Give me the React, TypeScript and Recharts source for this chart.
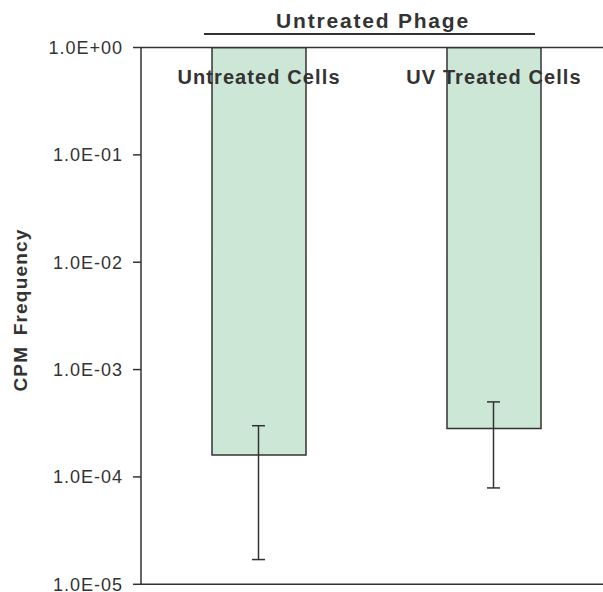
import React from 'react';
import {
  ComposedChart,
  Bar,
  Line,
  XAxis,
  YAxis,
  ErrorBar,
  LabelList,
  ReferenceLine
} from 'recharts';

// Data
const categories = ['Untreated Cells', 'UV Treated Cells'];
const cpmFrequency = [1.6e-4, 2.82e-4];
const errorLower = [1.43e-4, 2.03e-4];
const errorUpper = [1.4e-4, 2.18e-4];
const barTop = 1; // bars hang from the 1.0E+00 line
const yTicks = [1e-5, 1e-4, 1e-3, 1e-2, 1e-1, 1];
const groupTitle = 'Untreated Phage';
const yTitle = 'CPM Frequency';

const data = categories.map((name, i) => ({
  name,
  value: cpmFrequency[i],
  top: barTop,
  err: [errorLower[i], errorUpper[i]]
}));

const FONT = '"Liberation Sans", Arial, Helvetica, sans-serif';
const INK = '#333333';

// 1.0E-03 style
const sci = (v: number): string => {
  const [m, e] = v.toExponential(1).split('e');
  const n = parseInt(e, 10);
  return `${m}E${n < 0 ? '-' : '+'}${String(Math.abs(n)).padStart(2, '0')}`;
};

const styles = {
  page: {
    position: 'fixed' as const,
    top: 0,
    left: 0,
    width: 603,
    height: 592,
    overflow: 'hidden',
    background: '#ffffff',
    fontFamily: FONT
  },
  overlay: {
    position: 'absolute' as const,
    top: 0,
    left: 0,
    pointerEvents: 'none' as const
  }
};

const YTitle = () => (
  <text
    x={27}
    y={310}
    transform="rotate(-90 27 310)"
    textAnchor="middle"
    fontFamily={FONT}
    fontSize={19}
    fontWeight="bold"
    letterSpacing={1.2}
    wordSpacing={4}
    fill={INK}
  >
    {yTitle}
  </text>
);

// category name drawn inside the top of each bar, on one line
const CategoryLabel = (props: any) => {
  const { x, y, width, value } = props;
  return (
    <text
      x={Number(x) + Number(width) / 2}
      y={Number(y) + 36.5}
      textAnchor="middle"
      fontFamily={FONT}
      fontSize={20}
      fontWeight="bold"
      letterSpacing={1.1}
      fill={INK}
    >
      {value}
    </text>
  );
};

const App: React.FC = () => (
  <div style={styles.page}>
    <ComposedChart
      width={620}
      height={592}
      data={data}
      margin={{ top: 47.5, right: 9, bottom: 7.7, left: 0 }}
      barCategoryGap="30%"
    >
      <XAxis dataKey="name" hide />
      <YAxis
        scale="log"
        domain={[1e-5, 1]}
        ticks={yTicks}
        interval={0}
        allowDataOverflow
        width={141}
        tickFormatter={sci}
        tickSize={8}
        tickMargin={10}
        stroke={INK}
        strokeWidth={1.5}
        tick={{ fontSize: 18, fill: INK, fontFamily: FONT, letterSpacing: 1 }}
        label={{ content: () => <YTitle /> }}
      />
      <ReferenceLine y={1} stroke={INK} strokeWidth={1.5} />
      <ReferenceLine y={1e-5} stroke={INK} strokeWidth={1.5} />
      <Bar
        dataKey={(d: any) => [d.value, d.top]}
        barSize={94}
        fill="#cde7d6"
        stroke={INK}
        strokeWidth={1.5}
        isAnimationActive={false}
      >
        <LabelList dataKey="name" content={CategoryLabel} />
      </Bar>
      <Line
        dataKey="value"
        stroke="none"
        dot={false}
        activeDot={false}
        isAnimationActive={false}
      >
        <ErrorBar dataKey="err" width={6.5} stroke={INK} strokeWidth={1.5} direction="y" />
      </Line>
    </ComposedChart>

    <svg width={603} height={60} style={styles.overlay}>
      <text
        x={373}
        y={28.3}
        textAnchor="middle"
        fontFamily={FONT}
        fontSize={21}
        fontWeight="bold"
        letterSpacing={1.8}
        fill={INK}
      >
        {groupTitle}
      </text>
      <line x1={204} y1={34} x2={535} y2={34} stroke={INK} strokeWidth={2.2} />
    </svg>
  </div>
);

export default App;
